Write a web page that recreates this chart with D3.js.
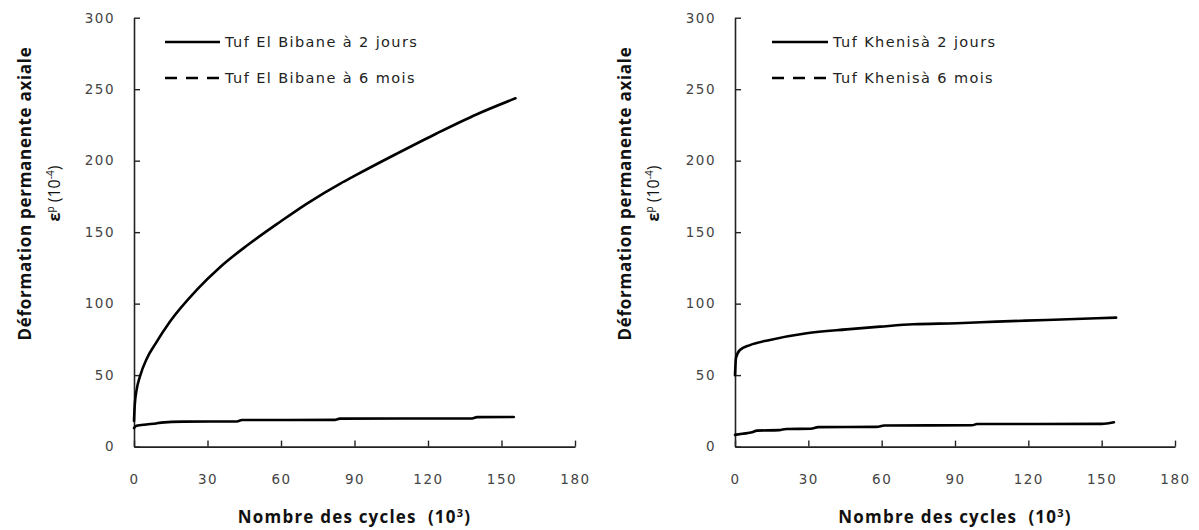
<!DOCTYPE html>
<html>
<head>
<meta charset="utf-8">
<script src="https://cdn.jsdelivr.net/npm/d3@7/dist/d3.min.js"></script>
<style>
  html, body { margin: 0; padding: 0; background: #fff; }
  svg { display: block; }
  .tick text { font-family: "DejaVu Sans", sans-serif; font-size: 13.5px; fill: #444; letter-spacing: 1.5px; }
  .title { font-family: "Open Sans", sans-serif; font-weight: bold; font-size: 17px; fill: #111; }
  .leg { font-family: "DejaVu Sans", sans-serif; font-size: 14.5px; fill: #222; letter-spacing: 1.4px; }
</style>
</head>
<body>
<svg id="chart" width="1199" height="530"></svg>
<script>
// ---- Data ----
const xTicks = [0, 30, 60, 90, 120, 150, 180];
const yTicks = [0, 50, 100, 150, 200, 250, 300];

// Left panel: Tuf El Bibane
const bibane2jX = [0, 0.3, 1.1, 2.4, 5.2, 8.6, 14.7, 25.6, 35.1, 46, 59.7, 70.6, 84.2, 89.6, 107.4, 123.7, 140, 155.7];
const bibane2jY = [18, 29, 40, 49, 61.5, 71.5, 87.5, 109.6, 125.5, 140.5, 157.3, 170, 184, 189, 205, 219.2, 232.5, 243.6];
const bibane6mX = [0, 1, 5, 9, 11, 20, 42, 44, 82, 84, 138, 140, 155];
const bibane6mY = [13, 14.5, 15.5, 16.2, 16.8, 17.5, 17.6, 18.6, 18.7, 19.6, 19.7, 20.6, 20.7];

// Right panel: Tuf Khenis
const khenis2jX = [0, 0.4, 2, 6.1, 14.3, 29.3, 45.7, 59.3, 73, 90.7, 107, 127.5, 148, 155.9];
const khenis2jY = [50, 62, 67.6, 71, 74.6, 79.3, 82, 83.9, 85.6, 86.3, 87.4, 88.6, 89.8, 90.2];
const khenis6mX = [0, 3, 7, 9, 18, 21, 31, 34, 58, 61, 97, 99, 150, 155];
const khenis6mY = [8.2, 9, 10, 11.2, 11.5, 12.3, 12.5, 13.6, 13.8, 14.8, 14.9, 15.8, 15.9, 17];

const panels = [
  { x0: 134, x1: 575, yLab1: 25, yLab2: 54,
    s1: { name: "Tuf El Bibane  à 2 jours", xs: bibane2jX, ys: bibane2jY },
    s2: { name: "Tuf El Bibane  à 6 mois", xs: bibane6mX, ys: bibane6mY },
    legX: 165, legW: 55 },
  { x0: 735, x1: 1175, yLab1: 625, yLab2: 653,
    s1: { name: "Tuf Khenisà 2 jours", xs: khenis2jX, ys: khenis2jY },
    s2: { name: "Tuf Khenisà 6 mois", xs: khenis6mX, ys: khenis6mY },
    legX: 772, legW: 56 }
];

const svg = d3.select("#chart");
const yTop = 17.7, yBot = 446.6;

panels.forEach(p => {
  const x = d3.scaleLinear().domain([0, 180]).range([p.x0, p.x1]);
  const y = d3.scaleLinear().domain([0, 300]).range([yBot, yTop]);
  const g = svg.append("g");

  const xa = g.append("g").attr("transform", `translate(0,${yBot})`)
    .call(d3.axisBottom(x).tickValues(xTicks).tickSizeInner(-6).tickSizeOuter(0).tickPadding(26));
  const ya = g.append("g").attr("transform", `translate(${p.x0},0)`)
    .call(d3.axisLeft(y).tickValues(yTicks).tickSizeInner(-6).tickSizeOuter(0).tickPadding(19));
  [xa, ya].forEach(a => {
    a.select(".domain").attr("stroke", "#222").attr("stroke-width", 1.6);
    a.selectAll(".tick line").attr("stroke", "#222").attr("stroke-width", 1.4);
  });
  xa.selectAll(".tick text").attr("dy", "0.35em").attr("y", 33);

  const line = d3.line().x(d => x(d[0])).y(d => y(d[1])).curve(d3.curveMonotoneX);
  [p.s1, p.s2].forEach(s => {
    const pts = s.xs.map((v, i) => [v, s.ys[i]]);
    g.append("path").datum(pts).attr("d", line)
      .attr("fill", "none").attr("stroke", "#000").attr("stroke-width", 2.6)
      .attr("stroke-linejoin", "round").attr("stroke-linecap", "round");
  });

  const legRows = [{ s: p.s1, ly: 42, dash: null }, { s: p.s2, ly: 78, dash: "12,9" }];
  legRows.forEach(r => {
    g.append("line").attr("x1", p.legX).attr("x2", p.legX + p.legW)
      .attr("y1", r.ly).attr("y2", r.ly)
      .attr("stroke", "#000").attr("stroke-width", 2.6)
      .attr("stroke-dasharray", r.dash);
    g.append("text").attr("class", "leg").attr("x", p.legX + p.legW + 5).attr("y", r.ly + 5)
      .text(r.s.name);
  });

  const xt = g.append("text").attr("class", "title").style("letter-spacing", "1.2px")
    .attr("x", (p.x0 + p.x1) / 2).attr("y", 523).attr("text-anchor", "middle")
    .attr("xml:space", "preserve");
  xt.append("tspan").text("Nombre des cycles  (10");
  xt.append("tspan").attr("font-size", "11px").attr("dy", "-6").text("3");
  xt.append("tspan").attr("dy", "6").text(")");

  const cy = 193.5;
  g.append("text").attr("class", "title").style("letter-spacing", "0.7px")
    .attr("transform", `translate(${p.yLab1 + 6},${cy}) rotate(-90)`)
    .attr("text-anchor", "middle").text("Déformation permanente axiale");
  const t2 = g.append("text").attr("class", "title").style("font-size", "16px")
    .attr("transform", `translate(${p.yLab2 + 6},${cy}) rotate(-90)`)
    .attr("text-anchor", "middle");
  t2.append("tspan").text("ε");
  t2.append("tspan").attr("font-size", "10px").attr("dy", "-6").attr("font-weight", "normal").text("p");
  t2.append("tspan").attr("dy", "6").attr("font-weight", "normal").text(" (10");
  t2.append("tspan").attr("font-size", "10px").attr("dy", "-6").attr("font-weight", "normal").text("-4");
  t2.append("tspan").attr("dy", "6").attr("font-weight", "normal").text(")");
});
</script>
</body>
</html>
